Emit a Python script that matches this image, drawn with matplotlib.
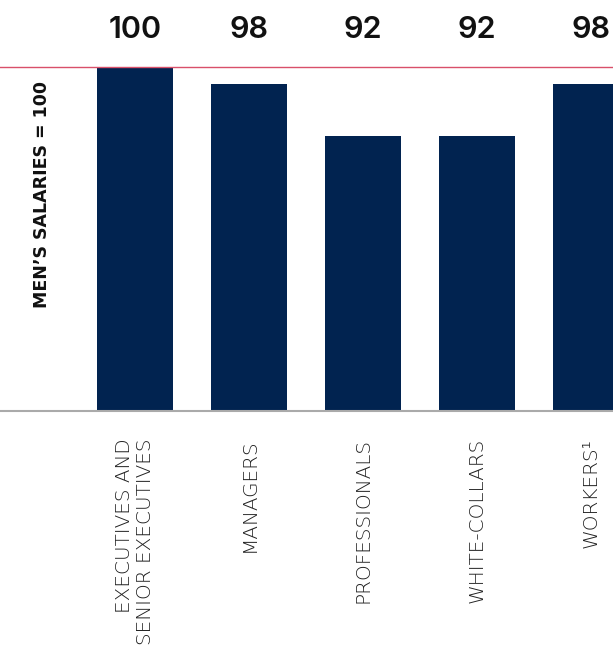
import matplotlib.pyplot as plt

categories = ["EXECUTIVES AND\nSENIOR EXECUTIVES", "MANAGERS", "PROFESSIONALS",
              "WHITE-COLLARS", "WORKERS\u00b9"]
values = [100, 98, 92, 92, 98]

navy = "#012350"
red = "#d9506a"

fig = plt.figure(figsize=(6.13, 6.49), dpi=100)
ax = fig.add_axes([0, 1 - 411 / 649, 1, (411 - 67) / 649])

x = range(len(values))
ax.bar(x, values, width=0.667, color=navy)
ax.set_ylim(60, 100)
ax.set_xlim(-135 / 114, (613 - 135) / 114)

for xi, v in zip(x, values):
    ax.annotate(str(v), (xi, 100), xytext=(0, 27), textcoords="offset points",
                ha="center", va="center", fontsize=22, fontweight="semibold",
                family="Inter", color="#111111")

ax.set_xticks(list(x))
ax.set_xticklabels(categories, rotation=90, va="top", ha="center",
                   multialignment="right", fontsize=14.4, family="DejaVu Sans",
                   fontweight="light", color="#222222", linespacing=1.12)
ax.tick_params(axis="x", length=0, pad=19.5)
ax.set_yticks([])

for s in ["left", "right"]:
    ax.spines[s].set_visible(False)
ax.spines["top"].set_color(red)
ax.spines["top"].set_linewidth(1.0)
ax.spines["bottom"].set_color("#aaaaaa")
ax.spines["bottom"].set_linewidth(1.5)

fig.text(42 / 613, 1 - 195 / 649, "MEN\u2019S SALARIES = 100", rotation=90,
         ha="center", va="center", fontsize=12.5, fontweight="bold",
         family="DejaVu Sans", color="#111111")

fig.savefig("out.png", dpi=100)
